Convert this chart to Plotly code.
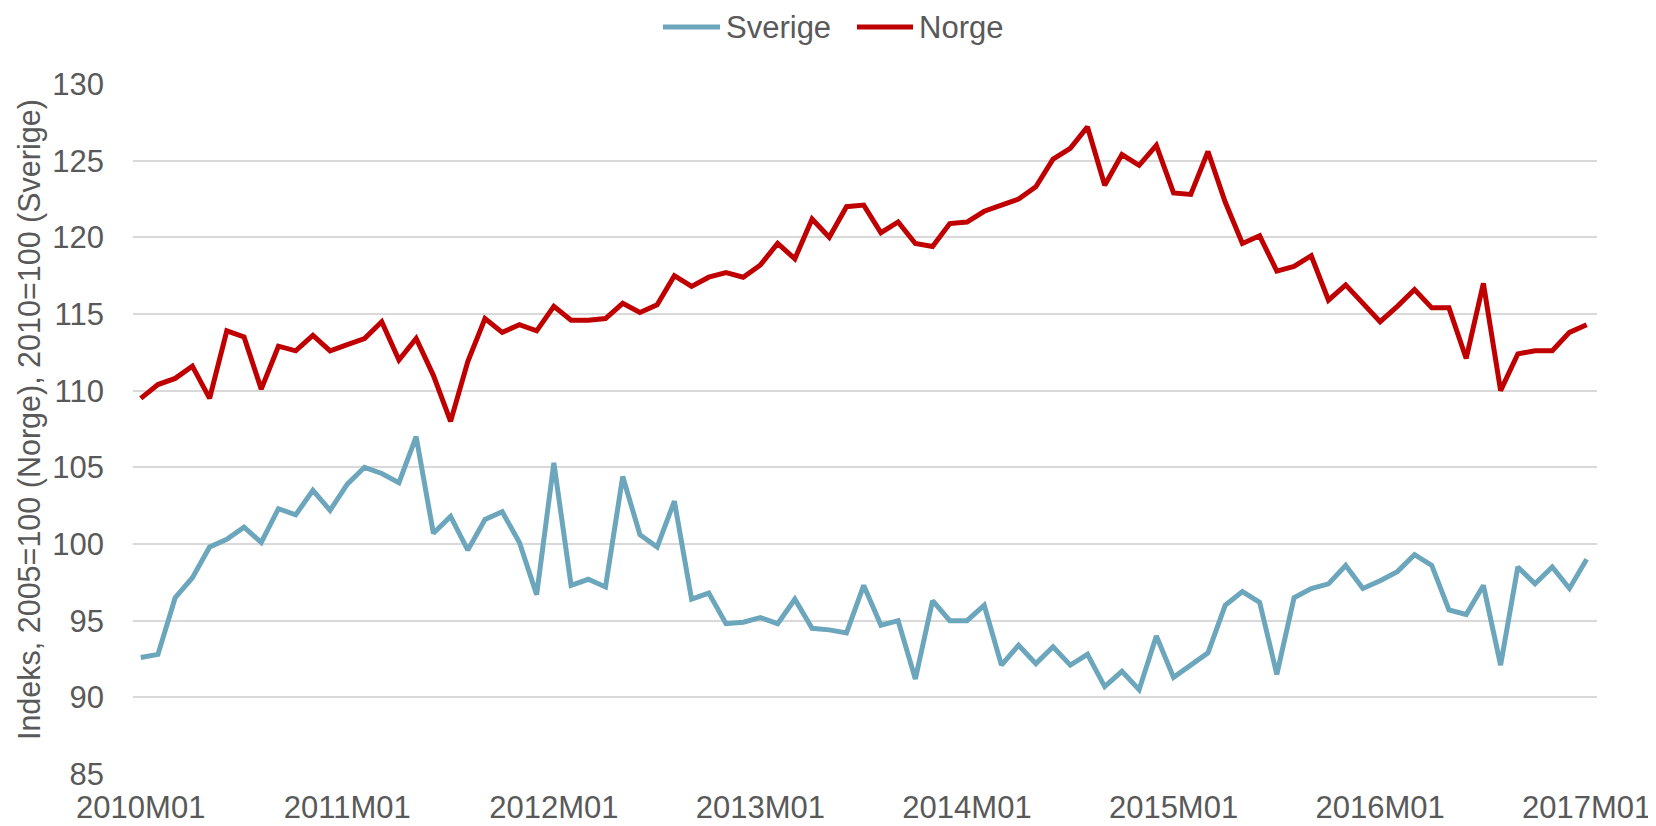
import plotly.graph_objects as go

months = [f"{y}M{m:02d}" for y in range(2010, 2017) for m in range(1, 13)] + ["2017M01"]

sverige = [92.6, 92.8, 96.5, 97.8, 99.8, 100.3, 101.1, 100.1, 102.3, 101.9, 103.5, 102.2,
           103.9, 105.0, 104.6, 104.0, 107.0, 100.7, 101.8, 99.6, 101.6, 102.1, 100.1, 96.7,
           105.3, 97.3, 97.7, 97.2, 104.4, 100.6, 99.8, 102.8, 96.4, 96.8, 94.8, 94.9,
           95.2, 94.8, 96.4, 94.5, 94.4, 94.2, 97.3, 94.7, 95.0, 91.2, 96.3, 95.0,
           95.0, 96.0, 92.1, 93.4, 92.2, 93.3, 92.1, 92.8, 90.7, 91.7, 90.5, 94.0,
           91.3, 92.1, 92.9, 96.0, 96.9, 96.2, 91.5, 96.5, 97.1, 97.4, 98.6, 97.1,
           97.6, 98.2, 99.3, 98.6, 95.7, 95.4, 97.3, 92.1, 98.5, 97.4, 98.5, 97.1,
           99.0]

norge = [109.5, 110.4, 110.8, 111.6, 109.5, 113.9, 113.5, 110.1, 112.9, 112.6, 113.6, 112.6,
         113.0, 113.4, 114.5, 112.0, 113.4, 111.0, 108.0, 111.9, 114.7, 113.8, 114.3, 113.9,
         115.5, 114.6, 114.6, 114.7, 115.7, 115.1, 115.6, 117.5, 116.8, 117.4, 117.7, 117.4,
         118.2, 119.6, 118.6, 121.2, 120.0, 122.0, 122.1, 120.3, 121.0, 119.6, 119.4, 120.9,
         121.0, 121.7, 122.1, 122.5, 123.3, 125.1, 125.8, 127.2, 123.4, 125.4, 124.7, 126.0,
         122.9, 122.8, 125.6, 122.3, 119.6, 120.1, 117.8, 118.1, 118.8, 115.9, 116.9, 115.7,
         114.5, 115.5, 116.6, 115.4, 115.4, 112.1, 117.0, 110.0, 112.4, 112.6, 112.6, 113.8,
         114.3]

series_names = ["Sverige", "Norge"]
series_colors = ["#6CA6BC", "#C00000"]

tick_labels = ["2010M01", "2011M01", "2012M01", "2013M01", "2014M01", "2015M01", "2016M01", "2017M01"]
y_ticks = [85, 90, 95, 100, 105, 110, 115, 120, 125, 130]
y_title = "Indeks, 2005=100 (Norge), 2010=100 (Sverige)"

FONT = "Liberation Sans, Arial, sans-serif"
TXT = "#595959"
LW = 5

fig = go.Figure()
for name, vals, col in zip(series_names, [sverige, norge], series_colors):
    fig.add_trace(go.Scatter(x=months, y=vals, mode="lines", name=name,
                             line=dict(color=col, width=LW), showlegend=False))

# Legend drawn manually (Excel-style long line samples)
legend_y = 1.0826
legend_items = [(0.362, 0.401, 0.4037), (0.4945, 0.5328, 0.5355)]
for (x0, x1, xt), name, col in zip(legend_items, series_names, series_colors):
    fig.add_shape(type="line", xref="paper", yref="paper", x0=x0, x1=x1,
                  y0=legend_y, y1=legend_y, line=dict(color=col, width=LW))
    fig.add_annotation(xref="paper", yref="paper", x=xt, y=legend_y, text=name,
                       showarrow=False, xanchor="left", yanchor="middle",
                       font=dict(size=31, color=TXT, family=FONT))

# Y axis title
fig.add_annotation(xref="paper", yref="paper", x=-0.071, y=0.513, text=y_title,
                   textangle=-90, showarrow=False, xanchor="center", yanchor="middle",
                   font=dict(size=30.5, color=TXT, family=FONT))

fig.update_layout(
    width=1648, height=818,
    margin=dict(l=125, r=59, t=76, b=52, autoexpand=False),
    paper_bgcolor="white", plot_bgcolor="white",
    font=dict(family=FONT, color=TXT, size=31),
    showlegend=False,
    xaxis=dict(type="category", range=[-0.45, 84.6], tickmode="array",
               tickvals=tick_labels, ticktext=tick_labels, showgrid=False,
               showline=False, zeroline=False, ticks="", tickangle=0,
               ticklabelstandoff=12,
               tickfont=dict(size=31, color=TXT)),
    yaxis=dict(range=[85, 130], tickmode="array", tickvals=y_ticks,
               showgrid=True, gridcolor="#D9D9D9", gridwidth=1.5,
               zeroline=False, showline=False, ticks="",
               ticklabelstandoff=28,
               tickfont=dict(size=31, color=TXT)),
)

fig.write_html("out.html")
